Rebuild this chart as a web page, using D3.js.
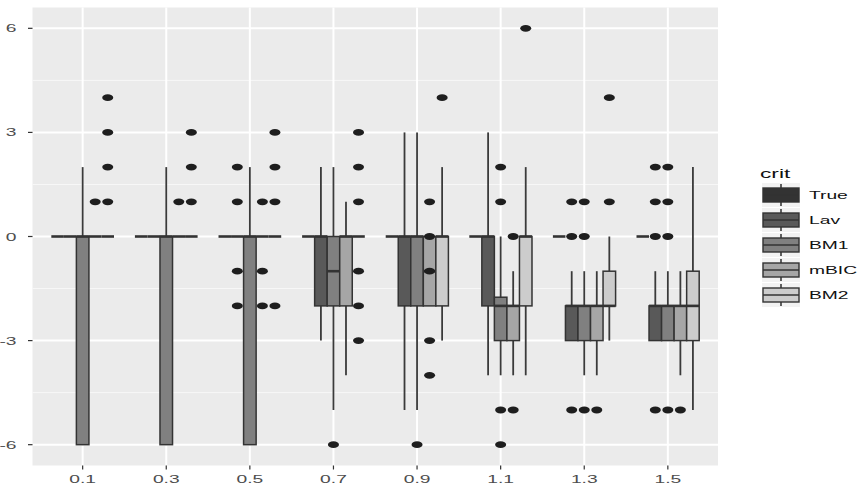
<!DOCTYPE html>
<html>
<head>
<meta charset="utf-8">
<script src="https://cdn.jsdelivr.net/npm/d3@7"></script>
<style>
  body { margin: 0; background: #fff; }
  svg { display: block; }
  text { font-family: "Liberation Sans", Arial, sans-serif; }
</style>
</head>
<body>
<svg id="chart" width="867" height="497"></svg>
<script>
// valeurs
const categories = ["0.1", "0.3", "0.5", "0.7", "0.9", "1.1", "1.3", "1.5"];
const groups = ["True", "Lav", "BM1", "mBIC", "BM2"];
const fills = ["#333333", "#595959", "#808080", "#a6a6a6", "#cccccc"];
const yTicks = [-6, -3, 0, 3, 6];
const yMinor = [-4.5, -1.5, 1.5, 4.5];

// une ligne par catégorie, une colonne par critère
const lowerWhisker = [
  [0, 0, -6, 0, 0],
  [0, 0, -6, 0, 0],
  [0, 0, -6, 0, 0],
  [0, -3, -5, -4, 0],
  [0, -5, -5, -2, -3],
  [0, -4, -4, -4, -4],
  [0, -3, -4, -4, -3],
  [0, -3, -3, -4, -5]
];
const q1 = [
  [0, 0, -6, 0, 0],
  [0, 0, -6, 0, 0],
  [0, 0, -6, 0, 0],
  [0, -2, -2, -2, 0],
  [0, -2, -2, -2, -2],
  [0, -2, -3, -3, -2],
  [0, -3, -3, -3, -2],
  [0, -3, -3, -3, -3]
];
const median = [
  [0, 0, 0, 0, 0],
  [0, 0, 0, 0, 0],
  [0, 0, 0, 0, 0],
  [0, 0, -1, 0, 0],
  [0, 0, 0, -1, 0],
  [0, 0, -2, -2, 0],
  [0, -2, -2, -2, -2],
  [0, -2, -2, -2, -2]
];
const q3 = [
  [0, 0, 0, 0, 0],
  [0, 0, 0, 0, 0],
  [0, 0, 0, 0, 0],
  [0, 0, 0, 0, 0],
  [0, 0, 0, 0, 0],
  [0, 0, -1.75, -2, 0],
  [0, -2, -2, -2, -1],
  [0, -2, -2, -2, -1]
];
const upperWhisker = [
  [0, 0, 2, 0, 0],
  [0, 0, 2, 0, 0],
  [0, 0, 2, 0, 0],
  [0, 2, 2, 1, 0],
  [0, 3, 3, 0, 2],
  [0, 3, 0, -1, 2],
  [0, -1, -1, -1, 0],
  [0, -1, -1, -1, 2]
];
const outliers = [
  [[], [], [], [1], [1, 2, 3, 4]],
  [[], [], [], [1], [1, 2, 3]],
  [[], [2, 1, -1, -2], [], [1, -1, -2], [3, 2, 1, -2]],
  [[], [], [-6], [], [3, 2, 1, -1, -2, -3]],
  [[], [], [-6], [1, 0, -1, -3, -4], [4]],
  [[], [], [2, 1, -5, -6], [0, -5], [6]],
  [[], [1, 0, -5], [1, 0, -5], [-5], [4, 1]],
  [[], [2, 1, 0, -5], [2, 1, 0, -5], [-5], []]
];

const svg = d3.select("#chart");
const panel = { left: 32.5, right: 718, top: 7.5, bottom: 465.5 };
const stretch = 1.75; // l'image d'origine est étirée en largeur

const x = d3.scaleBand()
  .domain(categories)
  .range([panel.left, panel.right])
  .paddingInner(0)
  .paddingOuter(0.1);

const dodge = d3.scaleBand()
  .domain(groups)
  .range([0, x.bandwidth() * 0.75]);

const y = d3.scaleLinear()
  .domain([-6.6, 6.6])
  .range([panel.bottom, panel.top]);

function groupCenter(cat, g) {
  return x(cat) + x.bandwidth() * 0.125 + dodge(g) + dodge.bandwidth() / 2;
}

function stretchedText(sel, tx, ty, str, size, anchor, color) {
  sel.append("text")
    .attr("transform", `translate(${tx},${ty}) scale(${stretch},1)`)
    .attr("text-anchor", anchor)
    .attr("font-size", size)
    .attr("fill", color)
    .text(str);
}

// fond du panneau
svg.append("rect")
  .attr("x", panel.left)
  .attr("y", panel.top)
  .attr("width", panel.right - panel.left)
  .attr("height", panel.bottom - panel.top)
  .attr("fill", "#ebebeb");

const grid = svg.append("g");
grid.selectAll(".minor")
  .data(yMinor)
  .enter()
  .append("line")
  .attr("x1", panel.left).attr("x2", panel.right)
  .attr("y1", d => y(d)).attr("y2", d => y(d))
  .attr("stroke", "#f7f7f7").attr("stroke-width", 1);
grid.selectAll(".major")
  .data(yTicks)
  .enter()
  .append("line")
  .attr("x1", panel.left).attr("x2", panel.right)
  .attr("y1", d => y(d)).attr("y2", d => y(d))
  .attr("stroke", "#fff").attr("stroke-width", 2);
grid.selectAll(".vmajor")
  .data(categories)
  .enter()
  .append("line")
  .attr("x1", d => x(d) + x.bandwidth() / 2).attr("x2", d => x(d) + x.bandwidth() / 2)
  .attr("y1", panel.top).attr("y2", panel.bottom)
  .attr("stroke", "#fff").attr("stroke-width", 2);

// boîtes à moustaches
const bw = dodge.bandwidth();
const plot = svg.append("g");
categories.forEach((cat, i) => {
  groups.forEach((g, j) => {
    const cx = groupCenter(cat, g);
    const gg = plot.append("g");
    gg.append("line")
      .attr("x1", cx).attr("x2", cx)
      .attr("y1", y(upperWhisker[i][j])).attr("y2", y(q3[i][j]))
      .attr("stroke", "#3a3a3a").attr("stroke-width", 1.8);
    gg.append("line")
      .attr("x1", cx).attr("x2", cx)
      .attr("y1", y(q1[i][j])).attr("y2", y(lowerWhisker[i][j]))
      .attr("stroke", "#3a3a3a").attr("stroke-width", 1.8);
    gg.append("rect")
      .attr("x", cx - bw / 2)
      .attr("y", y(q3[i][j]))
      .attr("width", bw)
      .attr("height", y(q1[i][j]) - y(q3[i][j]))
      .attr("fill", fills[j])
      .attr("stroke", "#333")
      .attr("stroke-width", 1.5);
    gg.append("line")
      .attr("x1", cx - bw / 2).attr("x2", cx + bw / 2)
      .attr("y1", y(median[i][j])).attr("y2", y(median[i][j]))
      .attr("stroke", "#333").attr("stroke-width", 2.6);
    gg.selectAll("ellipse")
      .data(outliers[i][j])
      .enter()
      .append("ellipse")
      .attr("cx", cx)
      .attr("cy", d => y(d))
      .attr("rx", 5.5)
      .attr("ry", 3.4)
      .attr("fill", "#1e1e1e");
  });
});

// axes
const axes = svg.append("g");
yTicks.forEach(t => {
  axes.append("line")
    .attr("x1", panel.left - 4.5).attr("x2", panel.left)
    .attr("y1", y(t)).attr("y2", y(t))
    .attr("stroke", "#333").attr("stroke-width", 1.2);
  stretchedText(axes, panel.left - 16, y(t) + 4, t, 11, "end", "#4d4d4d");
});
categories.forEach(c => {
  const cx = x(c) + x.bandwidth() / 2;
  axes.append("line")
    .attr("x1", cx).attr("x2", cx)
    .attr("y1", panel.bottom).attr("y2", panel.bottom + 4)
    .attr("stroke", "#333").attr("stroke-width", 1.2);
  stretchedText(axes, cx, 483, c, 11, "middle", "#4d4d4d");
});

// légende
const legend = svg.append("g");
stretchedText(legend, 760, 178, "crit", 13, "start", "#111");
groups.forEach((g, j) => {
  const cy = 195 + j * 25;
  const kx = 763, kw = 36;
  legend.append("rect")
    .attr("x", kx - 1).attr("y", cy - 12)
    .attr("width", kw + 2).attr("height", 24)
    .attr("fill", "#f2f2f2");
  legend.append("line")
    .attr("x1", kx + kw / 2).attr("x2", kx + kw / 2)
    .attr("y1", cy - 11).attr("y2", cy + 11)
    .attr("stroke", "#3a3a3a").attr("stroke-width", 1.6);
  legend.append("rect")
    .attr("x", kx).attr("y", cy - 7)
    .attr("width", kw).attr("height", 14)
    .attr("fill", fills[j])
    .attr("stroke", "#333").attr("stroke-width", 1.4);
  legend.append("line")
    .attr("x1", kx).attr("x2", kx + kw)
    .attr("y1", cy).attr("y2", cy)
    .attr("stroke", "#333").attr("stroke-width", 1.6);
  stretchedText(legend, 809, cy + 4, g, 11, "start", "#111");
});
</script>
</body>
</html>
